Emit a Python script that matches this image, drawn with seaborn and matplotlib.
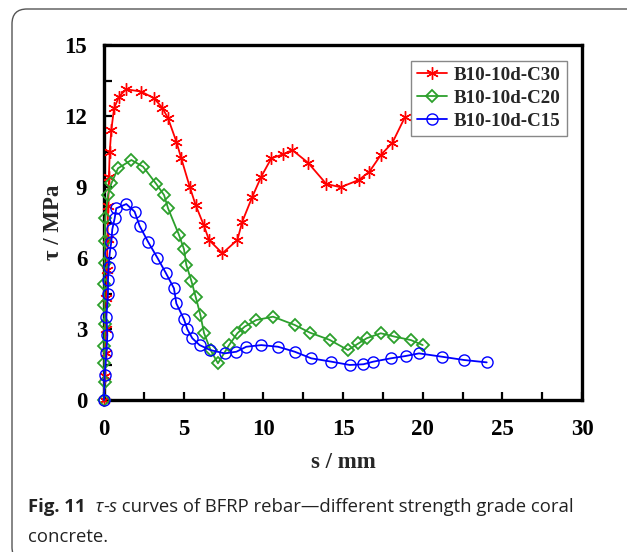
import numpy as np
import pandas as pd
import matplotlib
matplotlib.use("Agg")
import matplotlib.pyplot as plt
import seaborn as sns
from matplotlib.patches import FancyBboxPatch
from matplotlib.ticker import MultipleLocator

# slip s (mm) and bond stress tau (MPa)
s_c30 = [0, 0.05, 0.1, 0.12, 0.15, 0.18, 0.22, 0.26, 0.31, 0.36, 0.46, 0.63, 0.94, 1.40,
         2.34, 3.14, 3.66, 4.02, 4.54, 4.85, 5.38, 5.75, 6.26, 6.59, 7.43, 8.37, 8.68,
         9.31, 9.87, 10.50, 11.23, 11.82, 12.80, 13.95, 14.85, 16.0, 16.66, 17.37, 18.1, 18.9]
tau_c30 = [0, 1.0, 2.0, 3.0, 4.3, 5.5, 6.8, 8.2, 9.44, 10.49, 11.41, 12.32, 12.82, 13.13,
           13.03, 12.75, 12.35, 11.90, 10.92, 10.21, 9.01, 8.24, 7.39, 6.76, 6.20, 6.76, 7.54,
           8.59, 9.44, 10.21, 10.38, 10.56, 10.03, 9.13, 8.99, 9.3, 9.65, 10.35, 10.87, 11.97]

s_c20 = [0, 0.04, 0.02, 0.02, 0.04, 0.02, 0.02, 0.04, 0.04, 0.08, 0.25, 0.46, 0.88, 1.72,
         2.45, 3.28, 3.77, 4.02, 4.71, 5.02, 5.17, 5.48, 5.75, 6.05, 6.28, 6.69, 7.15,
         7.85, 8.37, 8.83, 9.56, 10.61, 11.97, 12.91, 14.16, 15.31, 15.97, 16.49, 17.37,
         18.23, 19.27, 20.0]
tau_c20 = [0, 0.77, 1.55, 2.3, 3.2, 4.0, 4.9, 5.8, 6.7, 7.7, 8.66, 9.15, 9.79, 10.14,
           9.86, 9.13, 8.66, 8.1, 6.97, 6.37, 5.70, 5.04, 4.37, 3.59, 2.82, 2.11, 1.55,
           2.32, 2.82, 3.10, 3.38, 3.52, 3.17, 2.85, 2.54, 2.11, 2.39, 2.61, 2.82,
           2.68, 2.53, 2.32]

s_c15 = [0, 0.04, 0.15, 0.21, 0.15, 0.25, 0.25, 0.29, 0.36, 0.46, 0.52, 0.67, 0.77, 1.40,
         1.92, 2.24, 2.76, 3.35, 3.87, 4.39, 4.54, 5.02, 5.23, 5.54, 6.0, 6.67, 7.57,
         8.31, 8.93, 9.87, 10.92, 11.97, 13.01, 14.27, 15.42, 16.28, 16.9, 18.0, 18.94,
         19.77, 21.2, 22.6, 24.02]
tau_c15 = [0, 1.06, 1.97, 2.75, 3.52, 4.5, 5.07, 5.63, 6.2, 6.69, 7.21, 7.68, 8.1, 8.28,
           7.96, 7.35, 6.69, 6.01, 5.38, 4.72, 4.08, 3.41, 2.99, 2.61, 2.32, 2.11, 1.97,
           2.04, 2.25, 2.32, 2.25, 2.04, 1.76, 1.62, 1.48, 1.51, 1.62, 1.76, 1.86,
           1.97, 1.83, 1.69, 1.59]

labels = ["B10-10d-C30", "B10-10d-C20", "B10-10d-C15"]

df = pd.concat([
    pd.DataFrame({"s": s_c30, "tau": tau_c30, "specimen": labels[0]}),
    pd.DataFrame({"s": s_c20, "tau": tau_c20, "specimen": labels[1]}),
    pd.DataFrame({"s": s_c15, "tau": tau_c15, "specimen": labels[2]}),
], ignore_index=True)

sns.set_style("ticks")
serif = "Liberation Serif"

fig = plt.figure(figsize=(6.27, 5.52), dpi=100)
ax = fig.add_axes([104 / 627, 1 - 400 / 552, 478 / 627, 355 / 552])

styles = {
    labels[0]: dict(color="#ff0000", marker=(6, 2, 0), ms=9, mew=1.0, mfc="#ff0000"),
    labels[1]: dict(color="#2ca02c", marker="D", ms=6, mew=1.3, mfc="none"),
    labels[2]: dict(color="#0000ff", marker="o", ms=8, mew=1.0, mfc="none"),
}
for lab in labels:
    st = styles[lab]
    sns.lineplot(data=df[df["specimen"] == lab], x="s", y="tau", sort=False,
                 estimator=None, ax=ax, label=lab, color=st["color"], lw=1.3,
                 marker=st["marker"], markersize=st["ms"], markeredgewidth=st["mew"],
                 markerfacecolor=st["mfc"], markeredgecolor=st["color"], clip_on=False,
                 zorder=3)

ax.set_xlim(0, 30)
ax.set_ylim(0, 15)
ax.xaxis.set_major_locator(MultipleLocator(5))
ax.xaxis.set_minor_locator(MultipleLocator(2.5))
ax.yaxis.set_major_locator(MultipleLocator(3))
ax.yaxis.set_minor_locator(MultipleLocator(1.5))
ax.tick_params(which="both", direction="in", length=6, width=1.6, colors="black",
               top=False, right=False)
ax.tick_params(axis="x", pad=14)
ax.tick_params(axis="y", pad=12)
for lab in ax.get_xticklabels() + ax.get_yticklabels():
    lab.set_fontfamily(serif)
    lab.set_fontweight("bold")
    lab.set_fontsize(16.5)
for sp in ax.spines.values():
    sp.set_linewidth(2.4)
    sp.set_color("black")

ax.set_xlabel("s / mm", fontfamily=serif, fontweight="bold", fontsize=16.5, labelpad=8)
ax.set_ylabel("τ / MPa", fontfamily=serif, fontweight="bold", fontsize=16.5, labelpad=0)

leg = ax.legend(loc="upper right", bbox_to_anchor=(0.968, 0.955), frameon=True,
                fancybox=False, edgecolor="#888888", framealpha=1, handlelength=1.6,
                handletextpad=0.35, borderpad=0.3, labelspacing=0.3, borderaxespad=0,
                prop={"family": serif, "weight": "bold", "size": 13.7})
leg.get_frame().set_linewidth(1.0)

# rounded panel border (only top and left edges visible)
border = FancyBboxPatch((0.12, -0.1), 7.0, 5.43 + 0.1,
                        boxstyle="round,pad=0,rounding_size=0.15",
                        transform=fig.dpi_scale_trans, fill=False,
                        edgecolor="#555555", lw=1.0)
fig.add_artist(border)

# caption
cap_font = "Open Sans"
cap_size = 13.3
t1 = fig.text(28 / 627, 1 - 516 / 552, "Fig. 11", fontfamily=cap_font, fontweight="bold",
              fontsize=cap_size, color="#222222", va="bottom")
t2 = ax.annotate("  τ", xy=(1, 0), xycoords=t1, fontfamily=cap_font, style="italic",
                 fontsize=cap_size, color="#222222", va="bottom", annotation_clip=False)
t3 = ax.annotate("-", xy=(1, 0), xycoords=t2, fontfamily=cap_font,
                 fontsize=cap_size, color="#222222", va="bottom", annotation_clip=False)
t4 = ax.annotate("s", xy=(1, 0), xycoords=t3, fontfamily=cap_font, style="italic",
                 fontsize=cap_size, color="#222222", va="bottom", annotation_clip=False)
ax.annotate(" curves of BFRP rebar—different strength grade coral", xy=(1, 0),
            xycoords=t4, fontfamily=cap_font, fontsize=cap_size, color="#222222",
            va="bottom", annotation_clip=False)
fig.text(28 / 627, 1 - 546 / 552, "concrete.", fontfamily=cap_font, fontsize=cap_size,
         color="#222222", va="bottom")

fig.savefig("out.png", dpi=100)
